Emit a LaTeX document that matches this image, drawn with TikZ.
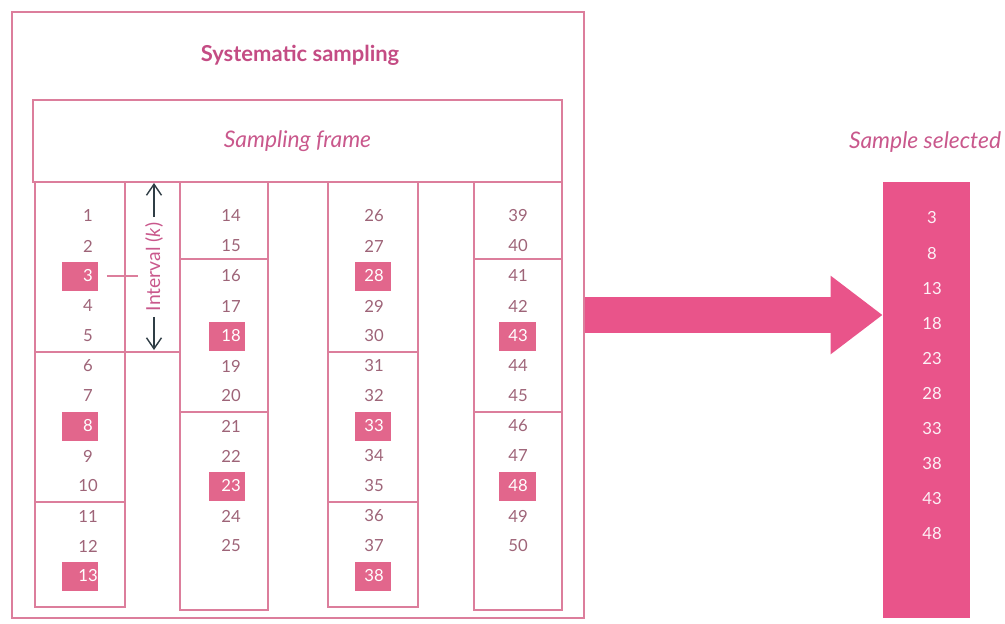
\documentclass[tikz,border=0pt]{standalone}
\usepackage{fontspec}
\setmainfont{Lato}
\usetikzlibrary{arrows.meta, positioning, calc}
\definecolor{linepink}{HTML}{DC7E9C}
\definecolor{titlepink}{HTML}{C44C84}
\definecolor{headpink}{HTML}{C9588C}
\definecolor{numgray}{HTML}{9E6478}
\definecolor{boxpink}{HTML}{E2668C}
\definecolor{samplepink}{HTML}{E9548A}
\definecolor{inkgray}{HTML}{2F3D45}
\tikzset{
  rule/.style={draw=linepink, line width=0.8pt},
  num/.style={text=numgray, font=\fontsize{9.5}{11}\selectfont, inner sep=0pt},
  pick/.style={fill=boxpink, minimum width=0.74cm, minimum height=0.58cm, inner sep=0pt},
  head/.style={text=headpink, font=\fontsize{13}{15}\selectfont\itshape},
  bigarrow/.style={draw=samplepink, line width=0.72cm, -{Triangle[length=1.04cm, width=1.5cm]}},
  karrow/.style={draw=inkgray, line width=0.8pt, -{Straight Barb[length=2.2mm, width=3mm]}},
}
\begin{document}
\begin{tikzpicture}[x=0.02cm, y=-0.02cm]
  \useasboundingbox (0,0) rectangle (1005,623);
  % outer frame and headers
  \node[rule, minimum width=11.44cm, minimum height=12.12cm] (outer) at (298,315) {};
  \node[text=titlepink, font=\fontsize{12.5}{14}\selectfont\bfseries] (title) at (300,55) {Systematic sampling};
  \node[rule, head, minimum width=10.58cm, minimum height=1.64cm] (frame) at (297.5,141) {Sampling frame};

  % columns of the frame
  \draw[rule] (35,182) rectangle (125,607) (35,352) -- (180,352) (35,502) -- (125,502);
  \draw[rule] (180,182) rectangle (268,610) (180,259) -- (268,259) (180,412) -- (268,412);
  \draw[rule] (328,182) rectangle (418,607) (328,352) -- (418,352) (328,502) -- (418,502);
  \draw[rule] (474,182) rectangle (562,610) (474,259) -- (562,259) (474,412) -- (562,412);

  % numbers, every fifth one picked
  \foreach \first/\last/\cx/\bx in {1/13/88/80, 14/25/231/227, 26/38/374/373, 39/50/518/517} {
    \foreach \n in {\first,...,\last} {
      \pgfmathtruncatemacro\row{\n-\first}
      \pgfmathtruncatemacro\r{mod(\n,5)}
      \ifnum\r=3
        \node[pick] (p\n) at (\bx,{216+30*\row}) {};
        \node[num, text=white] (n\n) at (\cx,{216+30*\row}) {\n};
      \else
        \node[num] (n\n) at (\cx,{216+30*\row}) {\n};
      \fi
    }
  }

  % interval
  \node[text=headpink, font=\fontsize{11}{13}\selectfont, rotate=90, inner sep=3pt] (ivl) at (154,267) {Interval (\textit{k})};
  \coordinate (ktop) at (154,183);
  \coordinate (kbot) at (154,350);
  \draw[karrow] (ivl.east) -- (ktop);
  \draw[karrow] (ivl.west) -- (kbot);
  \coordinate (tick) at (138,276);
  \draw[rule] ([xshift=0.16cm]p3.east) -- (tick);

  % sample selected
  \node[head] (seltitle) at (925,142) {Sample selected};
  \node[fill=samplepink, minimum width=1.74cm, minimum height=8.72cm] (sample) at (926.5,400) {};
  \foreach \v [count=\i] in {3,8,13,18,23,28,33,38,43,48}
    \node[num, text=white!92!samplepink] (s\v) at (932,{218+35.1*(\i-1)}) {\v};

  % arrow to the sample
  \coordinate (astart) at (outer.east |- 0,315);
  \draw[bigarrow] (astart) -- (astart -| sample.west);
\end{tikzpicture}
\end{document}
